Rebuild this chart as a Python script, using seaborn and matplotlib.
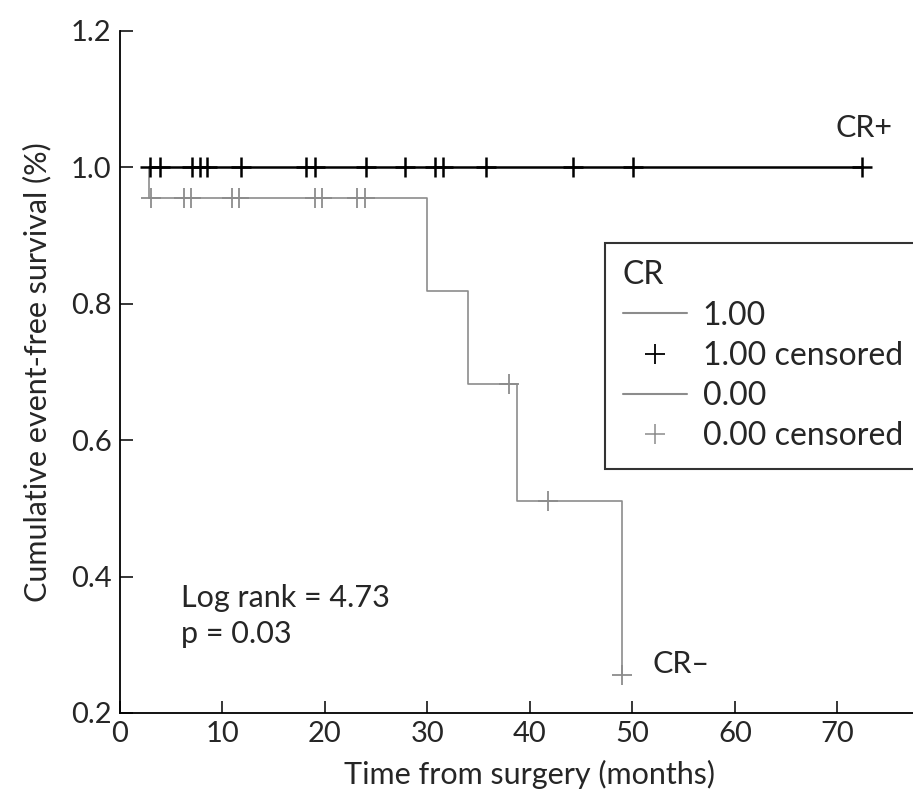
import numpy as np
import pandas as pd
import seaborn as sns
import matplotlib.pyplot as plt
from matplotlib.lines import Line2D

# CR- group (0.00): event times and survival after each event
neg_event_times = [2.8, 30.0, 34.0, 38.7, 49.0]
neg_survival = [0.9545, 0.818, 0.682, 0.511, 0.256]
neg_censor_times = [3.0, 6.2, 6.9, 10.95, 11.6, 19.0, 19.7, 23.1, 23.9, 38.0, 41.8, 49.0]

# CR+ group (1.00): no events, only censored cases
pos_start, pos_end = 2.9, 72.4
pos_censor_times = [2.9, 3.9, 7.0, 7.8, 8.5, 11.8, 18.2, 19.0, 24.0, 27.8,
                    30.7, 31.5, 35.7, 44.2, 50.1, 72.4]

x_ticks = [0, 10, 20, 30, 40, 50, 60, 70]
y_ticks = [0.2, 0.4, 0.6, 0.8, 1.0, 1.2]

GREY = '#8c8c8c'

sns.set_style("ticks")
plt.rcParams['font.family'] = ['Lato', 'DejaVu Sans']

fig = plt.figure(figsize=(9.13, 7.96), dpi=100)
ax = fig.add_axes([0.1314, 0.1043, 0.898, 0.857])

# step curve for CR-
neg_curve = pd.DataFrame({
    'time': [neg_event_times[0]] + neg_event_times,
    'surv': [1.0] + neg_survival,
})
# survival level at each censored time
levels = np.r_[1.0, neg_survival]
neg_cens = pd.DataFrame({'time': neg_censor_times})
neg_cens['surv'] = levels[np.searchsorted(neg_event_times, neg_cens['time'], side='right')]

pos_curve = pd.DataFrame({'time': [pos_start, pos_end], 'surv': [1.0, 1.0]})
pos_cens = pd.DataFrame({'time': pos_censor_times, 'surv': 1.0})

sns.lineplot(data=pos_curve, x='time', y='surv', color='black', linewidth=1.8,
             ax=ax, sort=False, estimator=None)
sns.lineplot(data=neg_curve, x='time', y='surv', color=GREY, linewidth=1.2,
             drawstyle='steps-post', ax=ax, sort=False, estimator=None)
sns.scatterplot(data=pos_cens, x='time', y='surv', marker='+', color='black',
                s=220, linewidth=1.8, ax=ax, zorder=3)
sns.scatterplot(data=neg_cens, x='time', y='surv', marker='+', color=GREY,
                s=220, linewidth=1.3, ax=ax, zorder=3)

ax.set_xlim(0, 80)
ax.set_ylim(0.2, 1.2)
ax.set_xticks(x_ticks)
ax.set_yticks(y_ticks)
ax.set_yticklabels([f'{v:.1f}' for v in y_ticks])
ax.tick_params(direction='in', length=9, width=1.3, labelsize=21, pad=6)
ax.tick_params(axis='x', pad=6)
for s in ['top', 'right']:
    ax.spines[s].set_visible(False)
for s in ['left', 'bottom']:
    ax.spines[s].set_linewidth(1.3)
    ax.spines[s].set_color('black')

ax.set_xlabel('Time from surgery (months)', fontsize=22, labelpad=9)
ax.set_ylabel('Cumulative event-free survival (%)', fontsize=22, labelpad=14)

ax.text(69.8, 1.057, 'CR+', fontsize=22, ha='left', va='center')
ax.text(52.0, 0.272, 'CR–', fontsize=22, ha='left', va='center')
ax.text(6.0, 0.356, 'Log rank = 4.73', fontsize=22, ha='left', va='baseline')
ax.text(6.0, 0.303, 'p = 0.03', fontsize=22, ha='left', va='baseline')

handles = [
    Line2D([], [], color=GREY, linewidth=1.5),
    Line2D([], [], color='black', marker='+', linestyle='none', markersize=14, markeredgewidth=1.3),
    Line2D([], [], color=GREY, linewidth=1.5),
    Line2D([], [], color=GREY, marker='+', linestyle='none', markersize=14, markeredgewidth=1.1),
]
labels = ['1.00', '1.00 censored', '0.00', '0.00 censored']
leg = ax.legend(handles, labels, title='CR', loc='upper left',
                bbox_to_anchor=(0.663, 0.695), bbox_transform=fig.transFigure,
                fontsize=23, title_fontsize=23, frameon=True, fancybox=False,
                handlelength=2.0, handletextpad=0.5, labelspacing=0.32,
                borderpad=0.55, borderaxespad=0, alignment='left')
leg.get_frame().set_edgecolor('black')
leg.get_frame().set_linewidth(1.5)

fig.savefig('out.png', dpi=100)
